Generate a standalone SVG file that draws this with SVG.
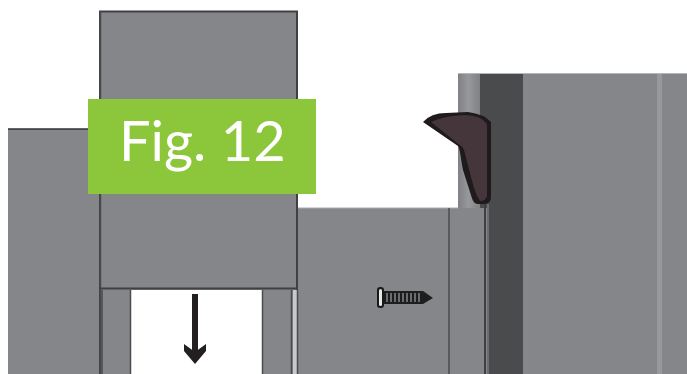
<svg xmlns="http://www.w3.org/2000/svg" width="687" height="374" viewBox="0 0 687 374">
<defs>
<style>
.g{fill:#85868a}
.l{stroke:#3f4042;fill:none;stroke-width:2}
.t{stroke:#4a4b4d;fill:none;stroke-width:1.5}
</style>
<linearGradient id="col" x1="0" x2="1" y1="0" y2="0">
<stop offset="0" stop-color="#808185"/><stop offset=".45" stop-color="#97989b"/><stop offset="1" stop-color="#7e7f83"/>
</linearGradient>
</defs>
<rect width="687" height="374" fill="#fff"/>
<g id="right-column">
<rect class="g" x="523" y="73" width="164" height="301"/>
<rect x="657" y="73" width="5" height="301" fill="#98999c"/>
<rect x="458" y="73" width="23" height="136" fill="url(#col)"/>
<rect x="480" y="73" width="43" height="301" fill="#4a4b4d"/>
<rect x="458" y="73" width="229" height="1" fill="#b5b6b8"/>
</g>
<g id="wall-panel">
<rect class="g" x="297" y="208" width="190" height="166"/>
<rect x="297" y="207.500" width="161" height="1" fill="#a9aaac"/>
<path class="t" d="M449 208V374"/>
<path class="l" d="M485 204V374" stroke-width="1.500"/>
<rect x="487" y="204" width="2" height="170" fill="#6c6d70"/>
</g>
<g id="left-panel">
<rect class="g" x="8" y="129" width="92" height="245"/>
<path d="M8 129H100" stroke="#2f3032" stroke-width="1.500"/>
</g>
<g id="door">
<rect class="g" x="100" y="11" width="197" height="363"/>
<path d="M100 374V11.500H297V290" class="l" stroke-width="1.800"/>
<path d="M100.500 11V374" class="t"/>
<rect x="131" y="290" width="131" height="84" fill="#fff"/>
<path class="l" d="M100 288.500H297"/>
<path class="t" d="M130.500 290V374M262.500 290V374M102 290V374M291.500 290V374"/>
<rect x="293" y="290" width="4" height="84" fill="#c8c9ca"/>
<path class="t" d="M297.500 290V374"/>
</g>
<g id="handle">
<path d="M423 122Q431 113 446 113L468 112Q484 114 491 122V197Q491 204 484 204H478C473 204 472 198 470 192L463 170C461 160 460 148 458 146Z" fill="#1f1a1c"/>
<path d="M431 122Q442 116 466 115Q482 116 487 124V196Q486 201 480 201C476 195 474 188 472 181L464 150C463 146 459 145 456 142Z" fill="#44363a"/>
</g>
<g id="screw">
<rect x="377" y="287" width="7" height="21" rx="3" fill="#1a1a1b"/>
<rect x="379" y="289" width="3" height="17" rx="1.500" fill="#e8e8e8"/>
<path d="M384 291H423L433 298L423 304H384Z" fill="#1e1e1f"/>
<path d="M387 293V302M391 293V302M395 293V302M399 293V302M403 293V302M407 293V302M411 293V302M415 293V302M419 293V302" stroke="#85868a" stroke-width="1.500"/>
</g>
<g id="connectors">
<path d="M195 294V356" stroke="#231f20" stroke-width="6" fill="none"/>
<path d="M184 344L195 352L206 344V351L195 364L184 351Z" fill="#231f20"/>
</g>
<g id="label">
<rect x="88" y="99" width="228" height="95" fill="#8cc63a"/>
<text x="119" y="161" font-family="Lato, 'Open Sans', sans-serif" font-size="56" fill="#fff">Fig. 12</text>
</g>
</svg>
